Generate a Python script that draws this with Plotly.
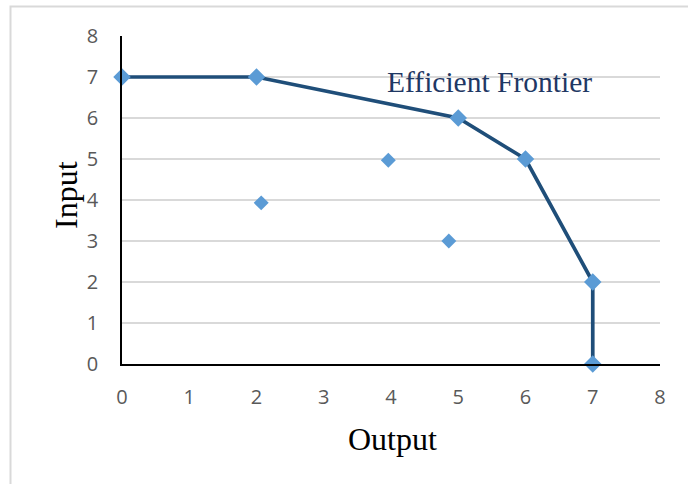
import plotly.graph_objects as go

frontier_output = [0, 2, 5, 6, 7, 7]
frontier_input = [7, 7, 6, 5, 2, 0]
other_output = [2.07, 3.96, 4.86]
other_input = [3.93, 4.97, 3.0]
tick_vals = [0, 1, 2, 3, 4, 5, 6, 7, 8]

W, H = 688, 484
L, R, T, B = 122, 28, 36, 120
pw, ph = W - L - R, H - T - B

def px(x):
    return (x - L) / pw

def py(y):
    return (H - B - y) / ph

fig = go.Figure()
fig.add_trace(go.Scatter(
    x=frontier_output, y=frontier_input, mode="lines+markers",
    line=dict(color="#1f4e79", width=3.7),
    marker=dict(symbol="diamond", size=13.5, color="#5b9bd5"),
    cliponaxis=False, showlegend=False))
fig.add_trace(go.Scatter(
    x=other_output, y=other_input, mode="markers",
    marker=dict(symbol="diamond", size=11.5, color="#5b9bd5"),
    cliponaxis=False, showlegend=False))

tickfont = dict(family="Open Sans, Liberation Sans, sans-serif", size=20, color="#595959")
fig.update_xaxes(range=[0, 8], tickvals=tick_vals, showgrid=False, zeroline=False,
                 showline=True, linecolor="#000000", linewidth=1.5,
                 tickfont=tickfont, ticks="", ticklabelstandoff=14)
fig.update_yaxes(range=[0, 8], tickvals=tick_vals, showgrid=True, gridcolor="#d9d9d9",
                 gridwidth=1.5, zeroline=False, showline=True, linecolor="#000000",
                 linewidth=1.5, tickfont=tickfont, ticks="", ticklabelstandoff=18)

serif = "Liberation Serif, Times New Roman, serif"
fig.add_annotation(text="Output", xref="paper", yref="paper", x=px(392), y=py(439),
                   xanchor="center", yanchor="middle",
                   showarrow=False, font=dict(family=serif, size=32, color="#000000"))
fig.add_annotation(text="Input", xref="paper", yref="paper", x=px(66), y=py(195),
                   xanchor="center", yanchor="middle",
                   showarrow=False, textangle=-90,
                   font=dict(family=serif, size=32, color="#000000"))
fig.add_annotation(text="Efficient Frontier", xref="paper", yref="paper", x=px(489), y=py(82),
                   xanchor="center", yanchor="middle",
                   showarrow=False, font=dict(family=serif, size=29.5, color="#1f3864"))

fig.add_shape(type="rect", xref="paper", yref="paper",
              x0=px(10.5), x1=px(720), y0=py(520), y1=py(6.5),
              line=dict(color="#d9d9d9", width=2), layer="below")

fig.update_layout(width=W, height=H, margin=dict(l=L, r=R, t=T, b=B),
                  paper_bgcolor="white", plot_bgcolor="white")
fig.write_html("out.html")
